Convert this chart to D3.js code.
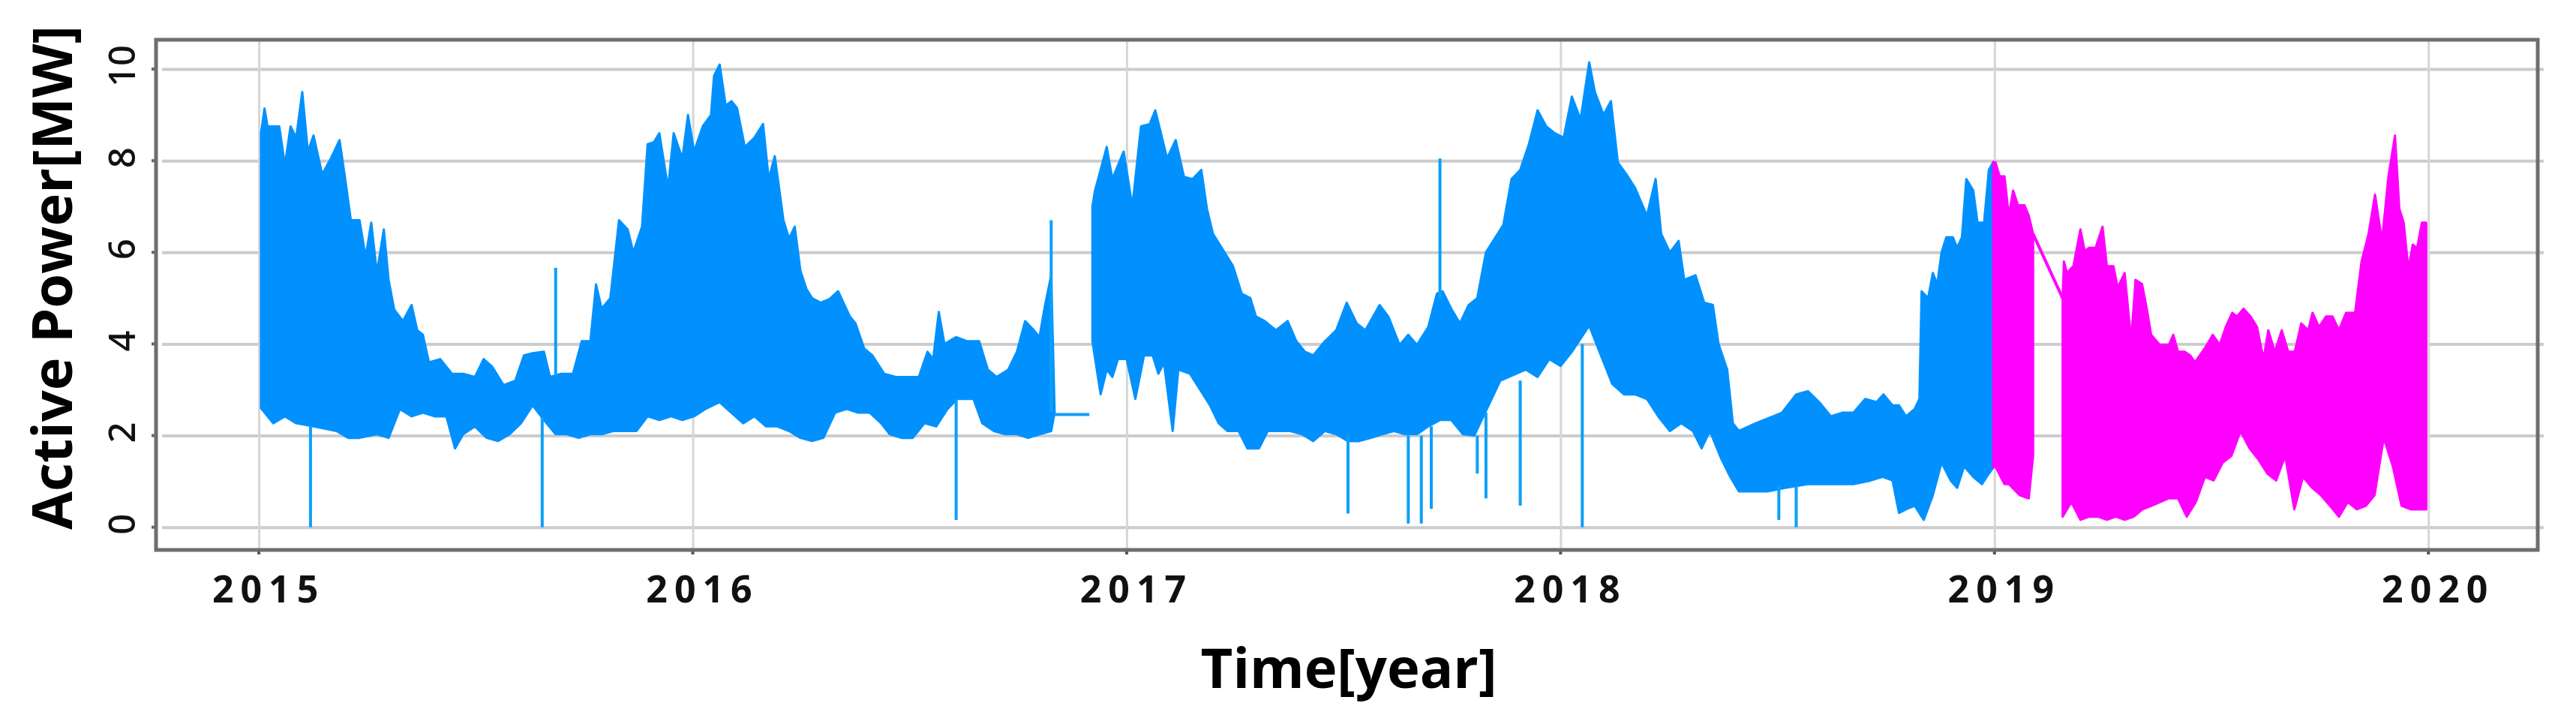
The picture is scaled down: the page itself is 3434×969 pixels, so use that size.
<!DOCTYPE html>
<html>
<head>
<meta charset="utf-8">
<script src="https://cdn.jsdelivr.net/npm/d3@7"></script>
<style>
  html, body { margin: 0; padding: 0; background: #ffffff; }
  svg { display: block; }
</style>
</head>
<body>
<svg id="chart" width="3434" height="969"></svg>
<script>
// ---------------- DATA ----------------
const yTicks = [0, 2, 4, 6, 8, 10];
const xTicks = [2015, 2016, 2017, 2018, 2019, 2020];
const xTickLabels = ["2015", "2016", "2017", "2018", "2019", "2020"];
const yTitle = "Active Power[MW]";
const xTitle = "Time[year]";

// Blue series, part 1 (2015 – Nov 2016): upper and lower envelope [year, MW]
const blue1Top = [
  [2015.005, 8.6], [2015.013, 9.14], [2015.020, 8.75], [2015.047, 8.75], [2015.060, 7.9], [2015.073, 8.75],
  [2015.086, 8.5], [2015.100, 9.5], [2015.113, 8.2], [2015.126, 8.55], [2015.146, 7.7], [2015.166, 8.05],
  [2015.186, 8.45], [2015.199, 7.6], [2015.212, 6.7], [2015.232, 6.7], [2015.246, 5.9], [2015.259, 6.65],
  [2015.272, 5.55], [2015.288, 6.5], [2015.299, 5.4], [2015.312, 4.75], [2015.332, 4.5], [2015.352, 4.85],
  [2015.365, 4.3], [2015.378, 4.2], [2015.392, 3.6], [2015.418, 3.67], [2015.445, 3.35], [2015.471, 3.35],
  [2015.498, 3.28], [2015.518, 3.67], [2015.538, 3.5], [2015.564, 3.1], [2015.591, 3.2], [2015.611, 3.75],
  [2015.631, 3.8], [2015.657, 3.83], [2015.671, 3.28], [2015.697, 3.35], [2015.724, 3.35], [2015.744, 4.06],
  [2015.764, 4.06], [2015.777, 5.3], [2015.790, 4.77], [2015.810, 5.0], [2015.830, 6.7], [2015.850, 6.5],
  [2015.863, 6.0], [2015.883, 6.56], [2015.896, 8.36], [2015.910, 8.4], [2015.923, 8.6], [2015.943, 7.4],
  [2015.956, 8.6], [2015.976, 8.05], [2015.989, 9.0], [2016.003, 8.2], [2016.023, 8.75], [2016.042, 9.0],
  [2016.049, 9.85], [2016.062, 10.1], [2016.076, 9.2], [2016.089, 9.3], [2016.102, 9.15], [2016.120, 8.3],
  [2016.142, 8.5], [2016.162, 8.8], [2016.175, 7.6], [2016.189, 8.1], [2016.209, 6.7], [2016.222, 6.3],
  [2016.235, 6.56], [2016.248, 5.6], [2016.262, 5.2], [2016.275, 5.0], [2016.295, 4.9], [2016.315, 4.98],
  [2016.335, 5.15], [2016.362, 4.6], [2016.375, 4.45], [2016.395, 3.9], [2016.414, 3.75], [2016.441, 3.35],
  [2016.468, 3.28], [2016.494, 3.28], [2016.521, 3.28], [2016.541, 3.83], [2016.554, 3.67], [2016.567, 4.7],
  [2016.580, 4.0], [2016.607, 4.15], [2016.633, 4.06], [2016.660, 4.06], [2016.680, 3.44], [2016.700, 3.28],
  [2016.727, 3.44], [2016.747, 3.83], [2016.766, 4.5], [2016.786, 4.3], [2016.799, 4.15], [2016.812, 4.85],
  [2016.826, 5.5], [2016.834, 2.5]
];
const blue1Bottom = [
  [2015.005, 2.6], [2015.033, 2.27], [2015.060, 2.42], [2015.086, 2.27], [2015.126, 2.2], [2015.179, 2.1],
  [2015.206, 1.95], [2015.232, 1.95], [2015.272, 2.03], [2015.299, 1.95], [2015.325, 2.58], [2015.352, 2.42],
  [2015.378, 2.5], [2015.405, 2.42], [2015.432, 2.42], [2015.452, 1.72], [2015.471, 2.03], [2015.498, 2.2],
  [2015.525, 1.95], [2015.551, 1.88], [2015.578, 2.03], [2015.604, 2.27], [2015.631, 2.66], [2015.657, 2.34],
  [2015.684, 2.03], [2015.710, 2.03], [2015.737, 1.95], [2015.764, 2.03], [2015.790, 2.03], [2015.817, 2.1],
  [2015.843, 2.1], [2015.870, 2.1], [2015.896, 2.42], [2015.923, 2.34], [2015.950, 2.42], [2015.976, 2.34],
  [2016.003, 2.42], [2016.029, 2.58], [2016.062, 2.73], [2016.089, 2.5], [2016.116, 2.27], [2016.142, 2.42],
  [2016.169, 2.2], [2016.195, 2.2], [2016.222, 2.1], [2016.248, 1.95], [2016.275, 1.88], [2016.301, 1.95],
  [2016.328, 2.5], [2016.355, 2.58], [2016.381, 2.5], [2016.408, 2.5], [2016.434, 2.27], [2016.454, 2.03],
  [2016.481, 1.95], [2016.507, 1.95], [2016.534, 2.27], [2016.561, 2.2], [2016.587, 2.58], [2016.610, 2.8],
  [2016.647, 2.8], [2016.667, 2.27], [2016.694, 2.1], [2016.720, 2.03], [2016.747, 2.03], [2016.773, 1.95],
  [2016.800, 2.03], [2016.826, 2.1], [2016.834, 2.5]
];

// Blue series, part 2 (Dec 2016 – 2019)
const blue2Top = [
  [2016.921, 7.0], [2016.927, 7.35], [2016.940, 7.8], [2016.954, 8.3], [2016.967, 7.6], [2016.980, 7.9],
  [2016.993, 8.2], [2017.013, 7.0], [2017.033, 8.75], [2017.053, 8.8], [2017.066, 9.1], [2017.079, 8.6],
  [2017.093, 8.05], [2017.113, 8.45], [2017.132, 7.65], [2017.152, 7.6], [2017.172, 7.8], [2017.185, 6.95],
  [2017.199, 6.4], [2017.219, 6.1], [2017.245, 5.7], [2017.265, 5.1], [2017.285, 5.0], [2017.298, 4.6],
  [2017.318, 4.5], [2017.344, 4.3], [2017.371, 4.5], [2017.391, 4.06], [2017.411, 3.83], [2017.430, 3.75],
  [2017.457, 4.06], [2017.483, 4.3], [2017.507, 4.9], [2017.530, 4.45], [2017.550, 4.3], [2017.583, 4.85],
  [2017.603, 4.6], [2017.629, 3.98], [2017.649, 4.2], [2017.669, 3.98], [2017.695, 4.37], [2017.715, 5.1],
  [2017.728, 5.15], [2017.748, 4.77], [2017.768, 4.45], [2017.788, 4.85], [2017.808, 5.0], [2017.828, 6.0],
  [2017.848, 6.3], [2017.868, 6.6], [2017.887, 7.6], [2017.907, 7.8], [2017.927, 8.36], [2017.947, 9.1],
  [2017.967, 8.75], [2017.987, 8.6], [2018.007, 8.5], [2018.026, 9.4], [2018.046, 8.9], [2018.066, 10.15],
  [2018.079, 9.5], [2018.099, 9.0], [2018.116, 9.3], [2018.132, 7.96], [2018.152, 7.7], [2018.172, 7.4],
  [2018.199, 6.8], [2018.219, 7.6], [2018.232, 6.4], [2018.252, 6.0], [2018.272, 6.25], [2018.285, 5.4],
  [2018.311, 5.5], [2018.331, 4.9], [2018.351, 4.85], [2018.364, 4.0], [2018.384, 3.44], [2018.397, 2.27],
  [2018.411, 2.1], [2018.450, 2.27], [2018.490, 2.42], [2018.510, 2.5], [2018.543, 2.9], [2018.570, 2.97],
  [2018.596, 2.73], [2018.623, 2.42], [2018.649, 2.5], [2018.675, 2.5], [2018.702, 2.8], [2018.728, 2.73],
  [2018.744, 2.9], [2018.765, 2.66], [2018.780, 2.66], [2018.796, 2.42], [2018.816, 2.58], [2018.827, 2.8],
  [2018.832, 5.15], [2018.847, 5.0], [2018.858, 5.55], [2018.868, 5.3], [2018.878, 6.0], [2018.889, 6.33],
  [2018.904, 6.33], [2018.914, 6.1], [2018.925, 6.33], [2018.935, 7.6], [2018.951, 7.35], [2018.961, 6.65],
  [2018.976, 6.65], [2018.987, 7.8], [2018.997, 7.97]
];
const blue2Bottom = [
  [2016.921, 4.06], [2016.940, 2.9], [2016.954, 3.44], [2016.967, 3.28], [2016.980, 3.67], [2017.000, 3.67],
  [2017.020, 2.8], [2017.040, 3.75], [2017.060, 3.75], [2017.073, 3.35], [2017.086, 3.59], [2017.106, 2.1],
  [2017.119, 3.44], [2017.146, 3.35], [2017.166, 3.05], [2017.192, 2.66], [2017.212, 2.27], [2017.232, 2.1],
  [2017.258, 2.1], [2017.278, 1.72], [2017.305, 1.72], [2017.325, 2.1], [2017.351, 2.1], [2017.377, 2.1],
  [2017.404, 2.03], [2017.430, 1.88], [2017.457, 2.1], [2017.483, 2.03], [2017.510, 1.88], [2017.536, 1.88],
  [2017.563, 1.95], [2017.589, 2.03], [2017.616, 2.1], [2017.642, 2.03], [2017.669, 2.03], [2017.695, 2.2],
  [2017.722, 2.34], [2017.748, 2.34], [2017.775, 2.03], [2017.801, 2.0], [2017.834, 2.66], [2017.861, 3.2],
  [2017.920, 3.44], [2017.947, 3.28], [2017.974, 3.67], [2018.000, 3.52], [2018.026, 3.83], [2018.066, 4.4],
  [2018.093, 3.75], [2018.119, 3.13], [2018.146, 2.9], [2018.172, 2.9], [2018.199, 2.8], [2018.225, 2.42],
  [2018.252, 2.1], [2018.278, 2.27], [2018.305, 2.1], [2018.325, 1.72], [2018.344, 2.1], [2018.371, 1.48],
  [2018.391, 1.1], [2018.411, 0.78], [2018.437, 0.78], [2018.477, 0.78], [2018.517, 0.86], [2018.570, 0.94],
  [2018.610, 0.94], [2018.649, 0.94], [2018.675, 0.94], [2018.715, 1.02], [2018.742, 1.1], [2018.765, 1.02],
  [2018.780, 0.31], [2018.796, 0.39], [2018.816, 0.47], [2018.837, 0.16], [2018.858, 0.7], [2018.878, 1.41],
  [2018.899, 1.02], [2018.914, 0.86], [2018.930, 1.33], [2018.951, 1.1], [2018.971, 0.94], [2018.987, 1.17],
  [2018.997, 1.3]
];

// Flat hold line between the two blue parts
const blueFlat = [[2016.834, 2.46], [2016.914, 2.46]];

// Isolated blue spikes: [year, low MW, high MW]
const blueSpikes = [
  [2015.119, 0.0, 2.2], [2015.653, 0.0, 2.4], [2015.684, 3.3, 5.66], [2016.607, 0.16, 2.8],
  [2016.826, 2.5, 6.7], [2017.510, 0.3, 2.0], [2017.649, 0.08, 2.0], [2017.679, 0.08, 2.0],
  [2017.702, 0.4, 2.2], [2017.722, 5.0, 8.05], [2017.808, 1.17, 2.0], [2017.828, 0.63, 2.5],
  [2017.907, 0.47, 3.2], [2018.050, 0.0, 4.0], [2018.503, 0.16, 0.9], [2018.543, 0.0, 0.9]
];

// Magenta series (2019), part 1 and part 2
const mag1Top = [
  [2018.997, 7.97], [2019.002, 7.97], [2019.012, 7.66], [2019.023, 7.66], [2019.033, 6.8], [2019.043, 7.35],
  [2019.054, 7.03], [2019.069, 7.03], [2019.079, 6.8], [2019.089, 6.4]
];
const mag1Bottom = [
  [2018.997, 1.3], [2019.002, 1.33], [2019.023, 0.94], [2019.033, 0.94], [2019.058, 0.7], [2019.079, 0.63],
  [2019.089, 1.56]
];
const magConnector = [[2019.089, 6.4], [2019.157, 5.0]];
const mag2Top = [
  [2019.157, 5.0], [2019.160, 5.8], [2019.167, 5.55], [2019.182, 5.7], [2019.198, 6.5], [2019.208, 6.03],
  [2019.218, 6.1], [2019.233, 6.1], [2019.249, 6.56], [2019.259, 5.7], [2019.274, 5.7], [2019.284, 5.23],
  [2019.300, 5.55], [2019.315, 4.06], [2019.325, 5.4], [2019.340, 5.31], [2019.351, 4.77], [2019.361, 4.2],
  [2019.381, 3.98], [2019.402, 3.98], [2019.412, 4.2], [2019.423, 3.83], [2019.438, 3.83], [2019.451, 3.75],
  [2019.462, 3.6], [2019.485, 3.91], [2019.503, 4.2], [2019.519, 3.98], [2019.533, 4.37], [2019.548, 4.68],
  [2019.559, 4.6], [2019.574, 4.77], [2019.590, 4.6], [2019.605, 4.37], [2019.620, 3.67], [2019.631, 4.3],
  [2019.646, 3.83], [2019.662, 4.3], [2019.677, 3.83], [2019.692, 3.83], [2019.707, 4.45], [2019.723, 4.3],
  [2019.733, 4.68], [2019.748, 4.37], [2019.764, 4.6], [2019.779, 4.6], [2019.794, 4.3], [2019.810, 4.68],
  [2019.831, 4.68], [2019.846, 5.8], [2019.862, 6.4], [2019.877, 7.26], [2019.893, 6.25], [2019.908, 7.66],
  [2019.923, 8.55], [2019.933, 6.95], [2019.943, 6.65], [2019.954, 5.63], [2019.964, 6.17], [2019.974, 6.09],
  [2019.985, 6.65], [2019.995, 6.65]
];
const mag2Bottom = [
  [2019.157, 0.23], [2019.177, 0.55], [2019.198, 0.16], [2019.218, 0.23], [2019.239, 0.23], [2019.259, 0.16],
  [2019.280, 0.23], [2019.300, 0.16], [2019.321, 0.23], [2019.341, 0.39], [2019.362, 0.47], [2019.382, 0.55],
  [2019.402, 0.63], [2019.423, 0.63], [2019.443, 0.23], [2019.464, 0.55], [2019.485, 1.1], [2019.505, 1.02],
  [2019.526, 1.41], [2019.546, 1.56], [2019.567, 2.1], [2019.588, 1.72], [2019.608, 1.48], [2019.629, 1.17],
  [2019.649, 1.02], [2019.670, 1.56], [2019.691, 0.39], [2019.711, 1.1], [2019.732, 0.86], [2019.752, 0.7],
  [2019.773, 0.47], [2019.794, 0.23], [2019.814, 0.55], [2019.835, 0.39], [2019.856, 0.47], [2019.876, 0.7],
  [2019.897, 1.95], [2019.918, 1.33], [2019.938, 0.47], [2019.959, 0.39], [2019.979, 0.39], [2019.995, 0.39]
];

// ---------------- DRAWING ----------------
const BLUE = "#0091ff";
const BLUE_SPIKE = "#0aa0f8";
const MAGENTA = "#ff00ff";

const frame = { left: 208, right: 3383, top: 53, bottom: 733 };
const svg = d3.select("#chart");

const x = d3.scaleLinear().domain([2014.763, 2020.252]).range([frame.left, frame.right]);
const y = d3.scaleLinear().domain([-0.496, 10.64]).range([frame.bottom, frame.top]);

// Horizontal grid (via axis)
svg.append("g")
  .attr("transform", `translate(${frame.left},0)`)
  .call(d3.axisLeft(y).tickValues(yTicks).tickSize(-(frame.right - frame.left) - 8).tickFormat(""))
  .call(g => g.select(".domain").remove())
  .call(g => g.selectAll(".tick line")
    .attr("x1", 8)
    .attr("stroke", "#cccccc").attr("stroke-width", 4));

// Vertical grid
svg.append("g")
  .attr("transform", `translate(0,${frame.bottom})`)
  .call(d3.axisBottom(x).tickValues(xTicks).tickSize(-(frame.bottom - frame.top)).tickFormat(""))
  .call(g => g.select(".domain").remove())
  .call(g => g.selectAll(".tick line").attr("stroke", "#d6d6d6").attr("stroke-width", 3));

// small left tick marks
svg.append("g").selectAll("line").data(yTicks).join("line")
  .attr("x1", frame.left - 6).attr("x2", frame.left + 2)
  .attr("y1", d => y(d)).attr("y2", d => y(d))
  .attr("stroke", "#666").attr("stroke-width", 4);

// bottom tick marks
svg.append("g").selectAll("line").data(xTicks).join("line")
  .attr("x1", d => x(d)).attr("x2", d => x(d))
  .attr("y1", frame.bottom - 2).attr("y2", frame.bottom + 6)
  .attr("stroke", "#555").attr("stroke-width", 4);

const line = d3.line().x(d => x(d[0])).y(d => y(d[1]));
const poly = (top, bottom) => line(top.concat(bottom.slice().reverse())) + "Z";

const plot = svg.append("g");

function band(top, bottom, color) {
  plot.append("path")
    .attr("d", poly(top, bottom))
    .attr("fill", color)
    .attr("stroke", color)
    .attr("stroke-width", 3)
    .attr("stroke-linejoin", "round");
}

band(blue1Top, blue1Bottom, BLUE);
band(blue2Top, blue2Bottom, BLUE);

plot.append("path").attr("d", line(blueFlat)).attr("fill", "none")
  .attr("stroke", BLUE_SPIKE).attr("stroke-width", 4);

plot.append("g").selectAll("line").data(blueSpikes).join("line")
  .attr("x1", d => x(d[0])).attr("x2", d => x(d[0]))
  .attr("y1", d => y(d[1])).attr("y2", d => y(d[2]))
  .attr("stroke", BLUE_SPIKE).attr("stroke-width", 4);

band(mag1Top, mag1Bottom, MAGENTA);
band(mag2Top, mag2Bottom, MAGENTA);
plot.append("path").attr("d", line(magConnector)).attr("fill", "none")
  .attr("stroke", MAGENTA).attr("stroke-width", 4);

// Frame
svg.append("rect")
  .attr("x", frame.left).attr("y", frame.top)
  .attr("width", frame.right - frame.left).attr("height", frame.bottom - frame.top)
  .attr("fill", "none").attr("stroke", "#6e6e6e").attr("stroke-width", 5);

// Y tick labels (rotated)
svg.append("g").selectAll("text").data(yTicks).join("text")
  .attr("transform", d => `translate(180,${y(d) - 4}) rotate(-90)`)
  .attr("text-anchor", "middle")
  .attr("font-family", "'Noto Sans', sans-serif")
  .attr("font-size", 49)
  .attr("font-weight", 500)
  .attr("fill", "#111")
  .text(d => d);

// X tick labels
svg.append("g").selectAll("text").data(xTicks).join("text")
  .attr("x", d => x(d) + 13)
  .attr("y", 803)
  .attr("text-anchor", "middle")
  .attr("font-family", "'Noto Sans', sans-serif")
  .attr("font-size", 50)
  .attr("font-weight", 700)
  .attr("letter-spacing", 9)
  .attr("fill", "#111")
  .text((d, i) => xTickLabels[i]);

// Axis titles
svg.append("text")
  .attr("transform", `translate(96,370) rotate(-90)`)
  .attr("text-anchor", "middle")
  .attr("font-family", "'Open Sans', sans-serif")
  .attr("font-weight", 700)
  .attr("font-size", 74)
  .attr("fill", "#000")
  .text(yTitle);

svg.append("text")
  .attr("x", 1798).attr("y", 917)
  .attr("text-anchor", "middle")
  .attr("font-family", "'Open Sans', sans-serif")
  .attr("font-weight", 700)
  .attr("font-size", 74)
  .attr("fill", "#000")
  .text(xTitle);
</script>
</body>
</html>
